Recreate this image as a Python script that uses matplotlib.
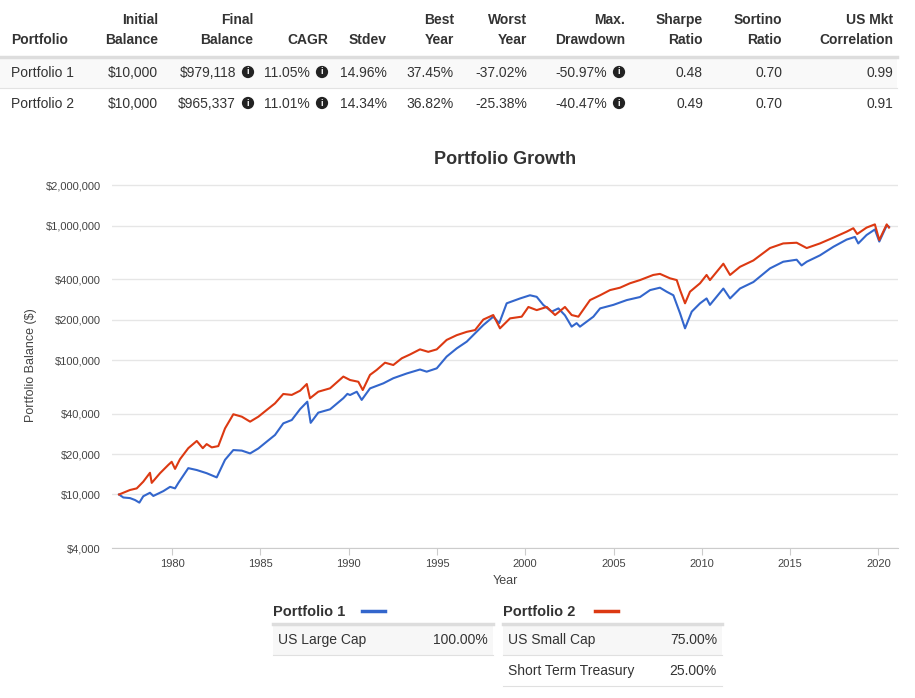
import matplotlib.pyplot as plt
from matplotlib.ticker import FixedLocator, FixedFormatter, NullLocator

plt.rcParams['font.family'] = ['Liberation Sans', 'DejaVu Sans']

# ===========================================================================================================================
# Data
# ===========================================================================================================================
p1_years = [1977.0, 1977.24, 1977.62, 1977.9, 1978.15, 1978.37, 1978.75, 1978.94, 1979.51, 1979.89,
            1980.17, 1980.36, 1980.92, 1981.4, 1981.96, 1982.53, 1983.0, 1983.47, 1983.95, 1984.42,
            1984.89, 1985.36, 1985.83, 1986.3, 1986.78, 1987.25, 1987.66, 1987.85, 1988.28, 1988.95,
            1989.7, 1989.93, 1990.08, 1990.46, 1990.74, 1991.21, 1991.97, 1992.53, 1993.29, 1994.04,
            1994.42, 1994.99, 1995.55, 1996.12, 1996.69, 1997.16, 1997.63, 1998.19, 1998.53, 1998.95,
            1999.71, 2000.27, 2000.65, 2001.02, 2001.5, 2001.88, 2002.25, 2002.63, 2002.91, 2003.1,
            2003.86, 2004.24, 2004.99, 2005.75, 2006.5, 2007.07, 2007.63, 2008.01, 2008.39, 2008.77,
            2009.05, 2009.43, 2009.9, 2010.27, 2010.46, 2011.22, 2011.6, 2012.16, 2012.92, 2013.86,
            2014.61, 2015.37, 2015.65, 2015.94, 2016.69, 2017.45, 2018.2, 2018.67, 2018.86, 2019.33,
            2019.8, 2020.05, 2020.47, 2020.6]
p1_values = [10000, 9500, 9400, 9100, 8700, 9700, 10300, 9750, 10600, 11400,
             11100, 12200, 15700, 15200, 14400, 13400, 18100, 21400, 21200, 20200,
             22000, 24700, 27700, 33800, 35800, 43100, 49000, 34100, 40600, 43000,
             52000, 56000, 54900, 58100, 50500, 61500, 67100, 73200, 79400, 85000,
             81900, 86700, 106000, 122000, 137000, 158000, 182000, 210000, 188000, 264000,
             287000, 303000, 295000, 257000, 229000, 242000, 215000, 177000, 188000, 177000,
             210000, 242000, 257000, 279000, 294000, 331000, 345000, 322000, 303000, 222000,
             172000, 229000, 264000, 287000, 257000, 340000, 287000, 340000, 380000, 480000,
             538000, 557000, 505000, 538000, 600000, 695000, 786000, 823000, 736000, 850000,
             935000, 760000, 1000000, 979118]

p2_years = [1977.0, 1977.62, 1978.0, 1978.37, 1978.75, 1978.85, 1979.32, 1979.79, 1979.98, 1980.17,
            1980.45, 1980.92, 1981.4, 1981.74, 1981.96, 1982.25, 1982.62, 1983.0, 1983.47, 1983.95,
            1984.42, 1984.89, 1985.36, 1985.83, 1986.3, 1986.78, 1987.25, 1987.63, 1987.81, 1988.28,
            1988.95, 1989.7, 1990.08, 1990.55, 1990.8, 1991.21, 1991.59, 1992.06, 1992.53, 1993.01,
            1993.48, 1994.04, 1994.51, 1994.99, 1995.55, 1996.12, 1996.69, 1997.16, 1997.63, 1998.19,
            1998.57, 1999.14, 1999.8, 2000.18, 2000.65, 2001.22, 2001.69, 2002.25, 2002.63, 2003.01,
            2003.67, 2004.24, 2004.8, 2005.37, 2005.93, 2006.5, 2007.25, 2007.63, 2008.2, 2008.58,
            2008.77, 2009.05, 2009.33, 2009.9, 2010.27, 2010.46, 2011.22, 2011.6, 2012.16, 2012.92,
            2013.86, 2014.61, 2015.37, 2015.94, 2016.69, 2017.45, 2018.2, 2018.58, 2018.8, 2019.33,
            2019.8, 2020.05, 2020.47, 2020.6]
p2_values = [10000, 10800, 11100, 12450, 14500, 12200, 14400, 16600, 17500, 15500,
             18300, 22100, 25000, 22100, 23700, 22400, 22900, 31000, 39500, 37900,
             34800, 37900, 42500, 47600, 55900, 55000, 59100, 66300, 51900, 58100,
             61600, 75300, 71000, 68900, 59800, 77500, 84400, 95500, 91800, 103000,
             110000, 120000, 115000, 120000, 141000, 153000, 162000, 167000, 200000, 216000,
             172000, 204000, 210000, 248000, 235000, 248000, 216000, 248000, 216000, 210000,
             279000, 303000, 331000, 345000, 372000, 393000, 429000, 437000, 405000, 393000,
             331000, 264000, 322000, 372000, 429000, 393000, 520000, 429000, 493000, 550000,
             680000, 736000, 745000, 680000, 736000, 813000, 900000, 955000, 865000, 965000,
             1020000, 780000, 1020000, 965337]

y_ticks = [4000, 10000, 20000, 40000, 100000, 200000, 400000, 1000000, 2000000]
y_tick_labels = ['$4,000', '$10,000', '$20,000', '$40,000', '$100,000', '$200,000',
                 '$400,000', '$1,000,000', '$2,000,000']
x_ticks = [1980, 1985, 1990, 1995, 2000, 2005, 2010, 2015, 2020]

table_header_top = ['', 'Initial', 'Final', '', '', 'Best', 'Worst', 'Max.', 'Sharpe', 'Sortino', 'US Mkt']
table_header_bottom = ['Portfolio', 'Balance', 'Balance', 'CAGR', 'Stdev', 'Year', 'Year', 'Drawdown',
                       'Ratio', 'Ratio', 'Correlation']
table_rows = [
    ['Portfolio 1', '$10,000', '$979,118', '11.05%', '14.96%', '37.45%', '-37.02%', '-50.97%', '0.48', '0.70', '0.99'],
    ['Portfolio 2', '$10,000', '$965,337', '11.01%', '14.34%', '36.82%', '-25.38%', '-40.47%', '0.49', '0.70', '0.91'],
]

p1_assets = ['US Large Cap']
p1_weights = ['100.00%']
p2_assets = ['US Small Cap', 'Short Term Treasury']
p2_weights = ['75.00%', '25.00%']

BLUE = '#3366cc'
RED = '#dc3912'
TEXT = '#333333'

W, H = 915, 698
fig = plt.figure(figsize=(W / 100, H / 100), dpi=100)


def fx(x):
    return x / W


def fy(y):
    return 1 - y / H


def hline(x0, x1, y, color, lw):
    fig.add_artist(plt.Line2D([fx(x0), fx(x1)], [fy(y), fy(y)], color=color, lw=lw))


def band(x0, x1, y0, y1, color):
    fig.add_artist(plt.Rectangle((fx(x0), fy(y1)), fx(x1) - fx(x0), fy(y0) - fy(y1),
                                 color=color, lw=0, zorder=0))


def info_icon(x, y):
    fig.text(fx(x), fy(y), 'i', color='white', fontsize=6.5, fontweight='bold', ha='center', va='center',
             bbox=dict(boxstyle='circle,pad=0.18', fc='#222222', ec='none'))


# ===========================================================================================================================
# Summary table at the top
# ===========================================================================================================================
col_right = [None, 158, 253, 328, 387, 454, 527, 625, 703, 782, 893]
band(0, 897, 58, 88, '#f9f9f9')
hline(0, 897, 57, '#dddddd', 2.5)
hline(0, 897, 88, '#e3e3e3', 0.8)

for i in range(len(table_header_bottom)):
    if i == 0:
        fig.text(fx(11), fy(40), table_header_bottom[i], fontsize=10, fontweight='bold', color=TEXT,
                 ha='left', va='center')
        continue
    fig.text(fx(col_right[i]), fy(20), table_header_top[i], fontsize=10, fontweight='bold', color=TEXT,
             ha='right', va='center')
    fig.text(fx(col_right[i]), fy(40), table_header_bottom[i], fontsize=10, fontweight='bold', color=TEXT,
             ha='right', va='center')

# value columns that carry an info icon get shifted left
icon_cols = {2: 248, 3: 322, 7: 619}
for r, row in enumerate(table_rows):
    y = 73 + r * 31
    for i, val in enumerate(row):
        if i == 0:
            fig.text(fx(11), fy(y), val, fontsize=10, color=TEXT, ha='left', va='center')
        elif i in icon_cols:
            fig.text(fx(icon_cols[i] - 12), fy(y), val, fontsize=10, color=TEXT, ha='right', va='center')
            info_icon(icon_cols[i], y - 1)
        else:
            fig.text(fx(col_right[i]), fy(y), val, fontsize=10, color=TEXT, ha='right', va='center')

# ===========================================================================================================================
# Growth chart
# ===========================================================================================================================
ax = fig.add_axes([fx(112), fy(548), fx(898) - fx(112), fy(182.2) - fy(548)])
ax.plot(p1_years, p1_values, color=BLUE, lw=1.5, label='Portfolio 1')
ax.plot(p2_years, p2_values, color=RED, lw=1.5, label='Portfolio 2')
ax.set_yscale('log')
ax.set_ylim(4000, 2.1e6)
ax.set_xlim(1976.6, 2021.11)
ax.yaxis.set_major_locator(FixedLocator(y_ticks))
ax.yaxis.set_major_formatter(FixedFormatter(y_tick_labels))
ax.yaxis.set_minor_locator(NullLocator())
ax.set_xticks(x_ticks)
ax.set_xticklabels([str(t) for t in x_ticks])
ax.grid(axis='y', color='#e6e6e6', lw=1)
ax.set_axisbelow(True)
for side in ['top', 'right', 'left']:
    ax.spines[side].set_visible(False)
ax.spines['bottom'].set_color('#cccccc')
ax.tick_params(axis='y', length=0, pad=8, labelsize=8, labelcolor='#444444')
ax.tick_params(axis='x', length=5, color='#cccccc', pad=3, labelsize=8, labelcolor='#444444')
ax.set_title('Portfolio Growth', fontsize=13, fontweight='bold', color=TEXT, pad=13)
ax.set_xlabel('Year', fontsize=9, color='#444444', labelpad=4)
ax.set_ylabel('Portfolio Balance ($)', fontsize=9, color='#444444', labelpad=6)

# ===========================================================================================================================
# Allocation tables below the chart
# ===========================================================================================================================
legend_boxes = [
    (273, 493, 'Portfolio 1', BLUE, 362, p1_assets, p1_weights),
    (503, 722, 'Portfolio 2', RED, 595, p2_assets, p2_weights),
]
for x0, x1, name, color, lx, assets, weights in legend_boxes:
    fig.text(fx(x0), fy(612), name, fontsize=10.5, fontweight='bold', color=TEXT, ha='left', va='center')
    fig.add_artist(plt.Line2D([fx(lx), fx(lx + 23)], [fy(611), fy(611)], color=color, lw=2.5))
    for k, (asset, weight) in enumerate(zip(assets, weights)):
        y_top = 624 + k * 31
        if k == 0:
            band(x0, x1, y_top, y_top + 31, '#f7f7f7')
        fig.text(fx(x0 + 5), fy(y_top + 16), asset, fontsize=10, color=TEXT, ha='left', va='center')
        fig.text(fx(x1 - 5), fy(y_top + 16), weight, fontsize=10, color=TEXT, ha='right', va='center')
        hline(x0, x1, y_top + 31, '#e0e0e0', 0.8)
    hline(x0, x1, 624, '#dddddd', 2.5)

plt.savefig('out.png', dpi=100)
